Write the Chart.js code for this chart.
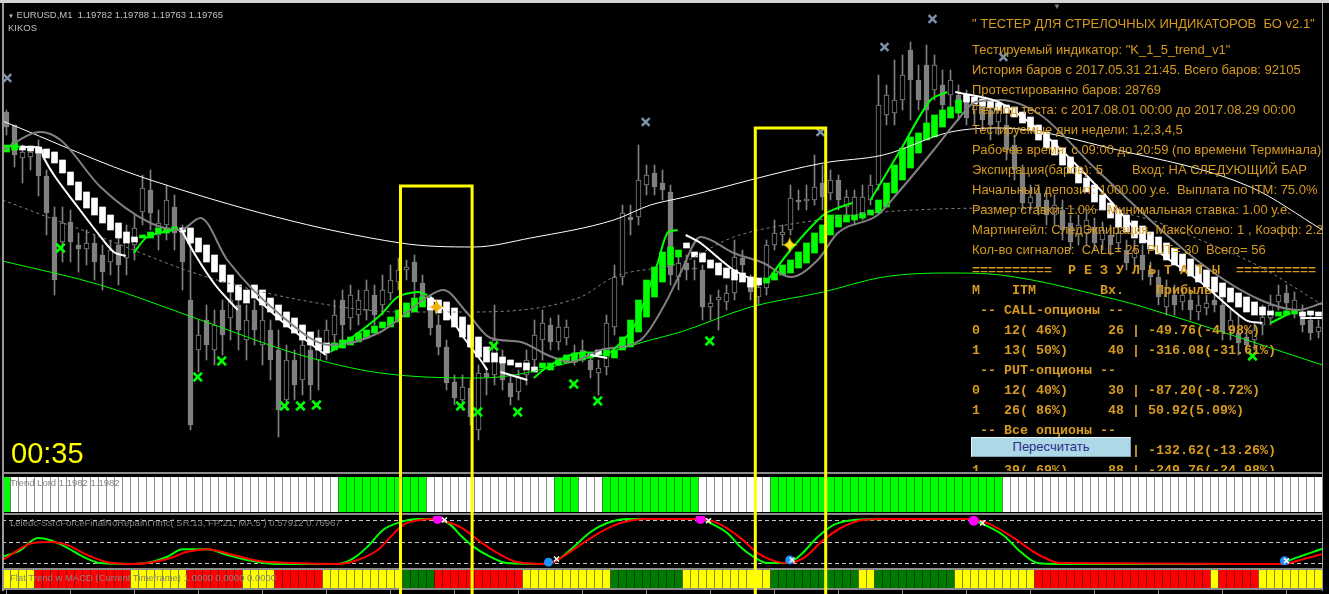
<!DOCTYPE html>
<html lang="ru">
<head>
<meta charset="UTF-8">
<meta name="viewport" content="width=device-width, initial-scale=1.0">
<title>EURUSD,M1 - K_1_5_trend_v1</title>
<script src="https://cdn.jsdelivr.net/npm/chart.js"></script>
<style>
  html, body { margin: 0; padding: 0; background: #000; }
  body { position: relative; width: 1329px; height: 594px; overflow: hidden; font-family: "Liberation Sans", Arial, sans-serif; }
  canvas { position: absolute; left: 2px; }
  #main { top: 4px; }
  #lord { top: 472px; }
  #force { top: 513px; }
  #flat { top: 568px; }
  #topbar { position: absolute; left: 0; top: 0; width: 1329px; height: 3px; background: #d4d4d4; }
  #leftline { position: absolute; left: 2px; top: 3px; width: 2px; height: 588px; background: #9a9a9a; z-index: 4; }
  #rightline { position: absolute; left: 1322px; top: 3px; width: 1px; height: 588px; background: #9a9a9a; z-index: 4; }
  .lbl { position: absolute; white-space: pre; z-index: 5; line-height: 12px; }
  .hdr { color: #c0c0c0; font-size: 9.5px; }
  .ind { color: #858585; font-size: 9.5px; }
  #report { position: absolute; left: 0; top: 0; width: 1322px; height: 471px; overflow: hidden; z-index: 5; }
  #report div { position: absolute; left: 972px; white-space: pre; color: #d69a1e; }
  .sans { font-size: 13px; line-height: 20px; }
  .mono { font-family: "Liberation Mono", "DejaVu Sans Mono", monospace; font-weight: bold; font-size: 13.33px; line-height: 20px; }
  #recalc { position: absolute; left: 971px; top: 437px; width: 160px; height: 20px; box-sizing: border-box;
            background: #add8e6; border: 1px solid #e6f3f8; border-right-color: #7ea3b0; border-bottom-color: #7ea3b0;
            color: #2b2b8c; font-size: 13px; line-height: 18px; text-align: center; z-index: 6; }
  #timer { position: absolute; left: 11px; top: 439px; font-size: 29px; line-height: 29px; color: #ffff00; z-index: 5; }
</style>
</head>
<body>
<div id="topbar"></div>
<canvas id="main" width="1320" height="468"></canvas>
<canvas id="lord" width="1320" height="41"></canvas>
<canvas id="force" width="1320" height="55"></canvas>
<canvas id="flat" width="1320" height="26"></canvas>
<div id="leftline"></div>
<div id="rightline"></div>

<div class="lbl hdr" style="left:8px;top:9px"><span style="font-size:6px">▼</span> EURUSD,M1  1.19782 1.19788 1.19763 1.19765</div>
<div class="lbl hdr" style="left:8px;top:22px">KIKOS</div>
<div class="lbl hdr" style="left:1053px;top:1px;color:#808080;font-size:8px">▼</div>
<div class="lbl ind" style="left:10px;top:477px">Trend Lord 1.1982 1.1982</div>
<div class="lbl ind" style="left:10px;top:517px">Leledc-SsrcForceFinalNoRepaint nmc( SR:13, FP:21, MA:5 ) 0.57912 0.76967</div>
<div class="lbl ind" style="left:10px;top:572px">Flat Trend w MACD (Current Timeframe) 1.0000 0.0000 0.0000</div>
<div id="timer">00:35</div>

<div id="report">
  <div class="sans" style="top:14px">" ТЕСТЕР ДЛЯ СТРЕЛОЧНЫХ ИНДИКАТОРОВ  БО v2.1"</div>
  <div class="sans" style="top:40px">Тестируемый индикатор: "K_1_5_trend_v1"
История баров с 2017.05.31 21:45. Всего баров: 92105
Протестированно баров: 28769
Период теста: с 2017.08.01 00:00 до 2017.08.29 00:00
Тестируемые дни недели: 1,2,3,4,5
Рабочее время: с 09:00 до 20:59 (по времени Терминала)
Экспирация(баров): 5        Вход: НА СЛЕДУЮЩИЙ БАР
Начальный депозит: 1000.00 у.е.  Выплата по ITM: 75.0%
Размер ставки: 1.0%   Минимальная ставка: 1.00 у.е.
Мартингейл: СледЭкпирация, МаксКолено: 1 , Коэфф: 2.2
Кол-во сигналов:  CALL= 26  PUT= 30  Всего= 56</div>
  <div class="mono" style="top:261px">==========  Р Е З У Л Ь Т А Т Ы  ==========
М    ITM        Вх.    Прибыль
 -- CALL-опционы --
0   12( 46%)     26 | -49.76(-4.98%)
1   13( 50%)     40 | -316.08(-31.61%)
 -- PUT-опционы --
0   12( 40%)     30 | -87.20(-8.72%)
1   26( 86%)     48 | 50.92(5.09%)
 -- Все опционы --
0   24( 43%)     56 | -132.62(-13.26%)
1   39( 69%)     88 | -249.76(-24.98%)</div>
</div>
<div id="recalc">Пересчитать</div>

<script>
const BASE = 1.19695, PT = 0.000005;
const price = v => BASE + v * PT;

// M1 candles, one entry per bar
const open = [358,345,312,313,322,294,253,228,248,225, 221,227,215,208,225,212,225,258,280,235,
  245,263,240,170,120,150,120,160,152,165, 130,160,125,140,120,70,110,90,120,110,
  125,135,170,152,155,160,175,165,177,188, 200,208,187,165,145,123,88,70,82,40,
  97,95,110,87,78,95,110,130,145,128, 132,117,120,110,97,103,143,193,253,253,
  285,297,287,278,193,207,202,200,163,170, 168,177,212,185,173,182,225,235,240,270,
  269,270,287,277,290,263,250,257,270,285, 355,357,370,420,390,405,380,385,375,375,
  370,360,367,360,348,345,325,297,267,277, 270,255,260,247,235,237,243,230,235,227,
  220,212,215,200,193,163,175,168,170,158, 162,170,165,140,137,133,130,145,152,168,
  177,160,158,150,138];
const high = [360,345,325,323,330,300,263,263,260,237, 240,235,225,230,235,245,255,295,300,260,
  285,275,245,230,150,165,160,170,185,175, 165,170,165,150,140,125,120,135,130,140,
  150,170,180,185,180,190,185,195,205,212, 210,215,195,175,155,130,95,95,90,105,
  102,165,120,95,100,120,150,160,152,155, 150,125,130,118,110,155,205,265,265,325,
  305,305,300,285,215,215,210,205,175,180, 185,230,220,195,190,230,250,245,285,280,
  285,315,305,300,295,280,280,285,295,395, 385,410,415,428,405,425,415,400,400,385,
  380,375,375,370,370,355,335,305,285,285, 280,275,270,255,255,260,252,248,245,245,
  230,230,225,208,200,190,185,182,180,175, 175,180,172,160,155,140,148,165,175,185,
  185,178,165,158,150];
const low = [335,303,287,300,274,235,175,208,208,198, 205,190,180,195,185,195,210,245,240,220,
  230,220,180,40,98,110,105,115,130,120, 110,125,105,90,33,60,70,75,70,80,
  110,125,130,140,145,150,145,155,170,180, 190,170,165,135,115,80,65,60,45,30,
  75,85,80,65,70,85,100,110,120,120, 125,105,108,92,75,95,135,185,235,245,
  275,275,270,185,180,190,190,150,150,140, 160,170,195,170,165,175,220,225,235,260,
  260,265,260,270,260,255,245,250,265,280, 345,345,360,350,360,345,370,355,360,350,
  345,345,340,330,335,310,290,260,260,255, 245,245,230,220,225,225,220,220,215,218,
  200,205,190,185,165,155,155,160,150,150, 155,158,130,130,115,118,120,135,145,160,
  158,152,138,130,132];
const close = [343,315,318,318,294,257,190,247,228,221, 227,208,198,220,205,230,242,282,257,247,
  270,237,208,45,135,125,145,135,170,140, 150,140,150,110,60,110,85,125,85,130,
  140,155,145,175,170,180,155,180,190,200, 203,188,172,142,123,87,72,83,53,97,
  93,130,90,73,93,110,135,147,128,143, 143,113,115,100,102,147,193,257,250,290,
  295,283,280,195,207,200,201,163,167,173, 177,213,205,178,183,225,237,238,272,268,
  271,283,273,290,270,273,273,273,285,365, 375,370,395,390,370,360,405,365,390,358,
  352,370,350,345,360,320,300,267,273,263, 255,265,240,228,245,250,227,240,225,237,
  207,220,200,193,173,183,165,175,160,165, 167,165,138,150,127,125,140,153,165,175,
  167,170,145,137,143];

// trend blocks (low / high edge per bar) and their colour: G green, W white
const haLow = [318,320,320,319,317,312,307,297,285,270, 262,255,247,240,232,227,228,232,232,237,
  237,240,238,227,218,208,198,188,178,170, 167,172,165,158,150,143,137,130,125,120,
  117,120,122,125,128,132,137,142,143,148, 153,158,163,160,157,150,143,133,123,113,
  108,108,107,105,103,100,98,102,100,105, 107,108,110,112,115,114,112,120,123,138,
  153,173,188,205,213,222,213,208,202,195, 192,190,188,183,185,187,190,195,197,202,
  207,217,227,235,243,248,250,252,255,257, 263,277,290,302,317,330,333,343,352,357,
  368,366,364,362,360,357,353,347,340,330, 322,315,305,297,287,278,268,260,252,243,
  238,232,227,221,216,210,205,199,194,188, 183,178,173,168,163,158,155,155,155,154,
  155,156,154,155,154];
const haHigh = [325,327,324,324,323,321,318,310,298,288, 278,272,263,255,247,238,233,235,238,242,
  242,243,242,242,232,225,215,205,195,185, 180,185,180,172,165,158,152,145,138,132,
  127,127,130,133,137,140,144,148,153,160, 167,172,173,172,170,168,162,153,145,133,
  123,117,113,110,107,107,103,107,107,112, 115,117,117,118,120,120,120,133,150,170,
  190,203,218,223,220,227,218,217,210,207, 202,200,197,193,192,192,197,205,210,218,
  227,237,245,255,255,255,255,257,260,270, 287,305,322,333,337,347,355,360,363,370,
  375,373,371,369,367,365,363,358,353,345, 338,330,322,313,303,292,285,275,267,260,
  255,249,244,238,233,227,222,216,211,205, 200,193,187,182,177,173,168,163,159,158,
  159,160,158,159,158];
const haColor = 'GGWWWWWWWW WWWWWWWGGG GGWWWWWWWW WWWWWWWWWW WGGGGGGGGG GGGWWWWWWW WWWWWWWGGG GGGGWGGGGG ' +
  'GGGGGWWWWW WWWWWGGGGG GGGGGGGGGG GGGGGGGGGG WWWWWWWWWW WWWWWWWWWW WWWWWWWWWW WWWWWWWWWG GGWWW';

// moving averages, read at bar positions
const longMaAt = [-0.5, 18, 49.25, 58.4, 65.5, 75.9, 80.5, 84.25, 102.1, 109.6, 118, 124.25, 138.9, 155.5, 164.5];
const longMa   = [349, 290, 227, 223, 232, 250, 265, 272, 307, 315, 338, 342, 320, 283, 240];
const lowBandAt = [-0.5, 11.75, 24.25, 36.75, 46.75, 59.25, 71.75, 80.5, 84.25, 93, 102.1, 109.6, 118, 124.25, 138.9, 142.1, 164.5];
const lowBand   = [209, 185, 150, 115, 97, 92, 110, 130, 138, 163, 178, 193, 197, 195, 170, 163, 105];
const dashMaAt = [-0.5, 11.75, 24.25, 36.75, 49.25, 58, 71.75, 75.9, 84.25, 90.9, 101.4, 109.6, 124.25, 136.75, 143, 149.25, 156.75, 164.5];
const dashMa   = [270, 233, 195, 170, 158, 158, 173, 193, 207, 233, 250, 258, 262, 260, 250, 230, 203, 165];
const slowMaAt = [-0.5, 4.25, 6.75, 11.75, 18, 21.75, 24.25, 27.6, 34.25, 40.5, 46.75, 52.6, 54.6, 57.6, 60.5, 64.25,
  67.6, 70.5, 74.25, 79.25, 82.1, 84.25, 86.75, 90.9, 94.6, 98, 101.4, 103.9, 108.9, 111.4, 115.9, 118.9, 121.1,
  124.25, 129.25, 135.9, 149.25, 156.75, 161.4, 164.5];
const slowMa   = [320, 338, 330, 283, 247, 240, 252, 210, 155, 125, 138, 173, 180, 157, 132, 128,
  115, 108, 120, 130, 163, 197, 233, 217, 207, 193, 210, 237, 255, 277, 320, 350, 368,
  370, 355, 303, 207, 170, 160, 167];
// fast line, white while falling and green while rising (null = break)
const fastWhiteAt = [1.75, 4.25, 4.6, 6.1, 8.9, 11.4, 13.4, 14.9, 18, 21.75, 23.6, 26.1, 28.9, 30, 31.1, 34.25, 37.4, 39.9,
  45, 53, 55.1, 57.1, 59.25, 60.1, 61, 61.75, 65.1, 70, 73, 75.1, 80, 84.9, 86.75, 90.9, 94.25, 110,
  118.6, 124.25, 130.5, 136.75, 143, 149.25, 154.9, 157, 159, 161.75, 164.5];
const fastWhite = [323, 322, 313, 293, 263, 237, 218, 214, null, 242, 215, 185, 160, null, 173, 150, 130, 115,
  null, 173, 157, 133, 110, 100, null, 98, 90, null, 115, 112, null, 235, 227, 200, 187, null,
  378, 367, 330, 280, 225, 188, 150, 147, null, 152, 152];
const fastGreenAt = [-0.5, 0.9, 1.75, 8, 15.9, 17.6, 20.9, 30, 40.5, 43.6, 46.75, 48.9, 51.4, 52.6, 60,
  65.9, 67.6, 70.5, 72.6, 74, 75.5, 78.4, 81.4, 82.6, 83.9, 90, 94.9, 98, 102.1, 103.9, 105.75, 107,
  108, 111.75, 115.5, 117.6, 140, 158, 160.5];
const fastGreen = [323, 324, 323, null, 217, 233, 240, null, 118, 135, 155, 173, 178, 175, null,
  92, 103, 115, 118, null, 117, 143, 207, 237, 240, null, 187, 220, 255, 262, 267, null,
  270, 320, 370, 378, null, 147, 157];

// arrows of the tested indicator
const buyCrossAt = [6.75, 23.9, 26.9, 34.75, 36.75, 38.75, 56.75, 58.9, 60.9, 63.9, 70.9, 73.9, 87.9, 155.75];
const buyCross   = [222, 93, 109, 64, 64, 65, 64, 58, 124, 58, 86, 69, 129, 114];
const sellCrossAt = [0.1, 79.9, 101.75, 109.75, 115.75, 124.6];
const sellCross   = [392, 348, 338, 423, 451, 413];
const starAt = [53.75, 97.9];
const star   = [163, 225];

// marked zones: first / last bar position and top level
const boxFrom = [49.25, 93.6];
const boxTo   = [58.2, 102.4];
const boxTop  = [284, 342];

// Trend Lord and Flat Trend colours per bar
const lordColor = 'GWWWWWWWWW WWWWWWWWWW WWWWWWWWWW WWWWWWWWWW WWGGGGGGGG GGGWWWWWWW WWWWWWWWWG GGWWWGGGGG ' +
  'GGGGGGGWWW WWWWWWGGGG GGGGGGGGGG GGGGGGGGGG GGGGGWWWWW WWWWWWWWWW WWWWWWWWWW WWWWWWWWWW WWWWW';
const flatColor = 'YYYYRRRRRR RRRRRRYYYY YYYRRRRRRR YYYYRRRRRR YYYYYYYYYY DDDDRRRRRR RRRRRYYYYY YYYYYYDDDD ' +
  'DDDDDYYYYY YYYYYYDDDD DDDDDDDYYD DDDDDDDDDY YYYYYYYYYR RRRRRRRRRR RRRRRRRRRR RYRRRRRYYY YYYYY';

// SsrcForce lines (0..1)
const forceFastAt = [-0.5, 1.75, 3.9, 5.5, 7.6, 9.6, 11.75, 15.9, 18, 20.1, 22, 25.1, 27.6, 30.1, 33.9, 41.4, 43.4, 45.1,
  47.1, 49.25, 51.4, 53.9, 54.25, 55.5, 56.75, 58.4, 60.5, 62.6, 67.6, 68.9, 70.9, 73, 75.1, 77.6, 86.75, 88,
  90.1, 91.75, 93.4, 95.1, 97.6, 99.25, 101.4, 103.4, 105.9, 110.5, 120.1, 121.75, 124.6, 126.75, 128.9, 131.4,
  159.25, 160.5, 164.5];
const forceFast = [0.16, 0.31, 0.58, 0.53, 0.36, 0.16, 0.02, 0, 0.04, 0.16, 0.33, 0.33, 0.2, 0.09, 0, 0, 0.13, 0.38,
  0.76, 0.93, 1, 1, 0.98, 0.87, 0.64, 0.38, 0.16, 0.02, 0, 0.09, 0.38, 0.71, 0.91, 1, 1, 0.91,
  0.69, 0.38, 0.16, 0.02, 0.02, 0.2, 0.6, 0.87, 0.98, 1, 1, 0.91, 0.64, 0.27, 0.02, 0,
  0, 0.09, 0.34];
const forceSlowAt = [-0.5, 3.4, 5.5, 7.6, 10.1, 12.6, 15.9, 20.1, 22.6, 25.1, 28.4, 31.4, 35.9, 41.4, 43.9, 46.4, 48,
  49.6, 51.75, 53.9, 54.25, 56.75, 59.25, 61.4, 63.9, 67.6, 69.25, 72.1, 74.25, 76.75, 80.1, 86.4, 88.9, 91.75,
  93.9, 95.9, 97.6, 99.6, 102.1, 104.25, 107.1, 110.5, 120.1, 122.6, 125.9, 128.4, 130.1, 131.75, 159.6, 161.75, 164.5];
const forceSlow = [0.09, 0.47, 0.49, 0.42, 0.2, 0.04, 0, 0.11, 0.27, 0.33, 0.2, 0.07, 0.02, 0, 0.09, 0.31, 0.6,
  0.87, 0.98, 1, 0.98, 0.82, 0.49, 0.24, 0.04, 0, 0.13, 0.47, 0.71, 0.91, 1, 1, 0.91, 0.58,
  0.24, 0.07, 0.02, 0.13, 0.53, 0.8, 0.98, 1, 1, 0.91, 0.58, 0.27, 0.11, 0.02, 0, 0.09, 0.22];
const forceLevels = [0.97, 0.5, 0.03];
const topDotAt = [53.9, 86.75, 120.9];
const topDot   = [1, 1, 0.96];
const lowDotAt = [67.75, 97.9, 159.75];
const lowDot   = [0.04, 0.09, 0.07];
const signalAt = [54.75, 87.75, 122, 68.75, 98.2, 160];
const signal   = [0.98, 0.96, 0.91, 0.11, 0.09, 0.07];

// ---------------------------------------------------------------
Chart.defaults.animation = false;
Chart.defaults.responsive = false;
Chart.defaults.devicePixelRatio = 1;
Chart.defaults.events = [];
Chart.defaults.plugins.legend.display = false;
Chart.defaults.plugins.tooltip.enabled = false;

const GRAY = '#808080';
const bars = s => s.replace(/ /g, '').split('');
const pts = (at, vals, f) => at.map((x, k) => ({ x, y: vals[k] === null ? null : f(vals[k]) }));
const same = v => v;
const xAxis = () => ({ type: 'linear', min: -0.5625, max: 164.4375, offset: false, display: false });
const pad = (top, bottom) => ({ autoPadding: false, padding: { top, bottom, left: 0, right: 0 } });

// four-pointed sparkle used as point style for the entry stars
function sparkle(color) {
  const c = document.createElement('canvas');
  c.width = c.height = 17;
  const g = c.getContext('2d');
  const m = 8.5, k = 0.6;
  g.fillStyle = color;
  g.beginPath();
  g.moveTo(m, 0);
  g.quadraticCurveTo(m + k, m - k, 17, m);
  g.quadraticCurveTo(m + k, m + k, m, 17);
  g.quadraticCurveTo(m - k, m + k, 0, m);
  g.quadraticCurveTo(m - k, m - k, m, 0);
  g.fill();
  g.fillRect(m - 1.5, m - 1.5, 3, 3);
  return c;
}

// black background, panel separator, bottom time scale
const frame = {
  id: 'frame',
  beforeDraw(chart, args, o) {
    const { ctx, width, height } = chart;
    ctx.save();
    ctx.fillStyle = '#000';
    ctx.fillRect(0, 0, width, height);
    if (o.sep) {
      ctx.fillStyle = '#8c8c8c';
      ctx.fillRect(0, 0, width, 2);
    }
    ctx.restore();
  },
  afterDraw(chart, args, o) {
    if (!o.timeScale) return;
    const { ctx, width, chartArea } = chart;
    const x = chart.scales.x;
    ctx.save();
    ctx.fillStyle = '#8c8c8c';
    ctx.fillRect(0, chartArea.bottom, width, 2);
    for (let i = 0; i <= 164; i += 8) {
      ctx.fillRect(Math.floor(x.getPixelForValue(i)), chartArea.bottom + 2, 1, 4);
    }
    ctx.restore();
  }
};

const levels = {
  id: 'levels',
  beforeDatasetsDraw(chart) {
    const { ctx, chartArea } = chart;
    const y = chart.scales.y;
    ctx.save();
    ctx.strokeStyle = '#c8c8c8';
    ctx.lineWidth = 1;
    ctx.setLineDash([4, 3]);
    forceLevels.forEach(v => {
      const py = Math.round(y.getPixelForValue(v)) + 0.5;
      ctx.beginPath();
      ctx.moveTo(chartArea.left, py);
      ctx.lineTo(chartArea.right, py);
      ctx.stroke();
    });
    ctx.restore();
  }
};

// yellow zone rectangles, running down through every panel
const boxes = {
  id: 'boxes',
  afterDraw(chart, args, o) {
    const { ctx, height } = chart;
    const x = chart.scales.x, y = chart.scales.y;
    ctx.save();
    ctx.strokeStyle = '#ffff00';
    ctx.lineWidth = 3;
    ctx.lineJoin = 'miter';
    for (let k = 0; k < boxFrom.length; k++) {
      const l = x.getPixelForValue(boxFrom[k]);
      const r = x.getPixelForValue(boxTo[k]);
      ctx.beginPath();
      if (o.top) {
        const t = y.getPixelForValue(price(boxTop[k]));
        ctx.moveTo(l, height);
        ctx.lineTo(l, t);
        ctx.lineTo(r, t);
        ctx.lineTo(r, height);
      } else {
        ctx.moveTo(l, 0); ctx.lineTo(l, height);
        ctx.moveTo(r, 0); ctx.lineTo(r, height);
      }
      ctx.stroke();
    }
    ctx.restore();
  }
};

// ---------------- main price panel ----------------
const wickData = open.map((o, i) => ({ x: i, y: [price(low[i]), price(high[i])] }));
const bodyData = open.map((o, i) => ({ x: i, y: [price(Math.min(o, close[i])), price(Math.max(o, close[i]))] }));
const bodyFill = open.map((o, i) => close[i] > o ? '#000' : GRAY);
const haData = haLow.map((v, i) => ({ x: i, y: [price(v), price(haHigh[i])] }));
const haFill = bars(haColor).map(c => c === 'G' ? '#00ff00' : '#ffffff');

const lineSet = (data, color, width, order, extra) => Object.assign({
  type: 'line', data, borderColor: color, borderWidth: width, pointRadius: 0,
  cubicInterpolationMode: 'monotone', spanGaps: false, order
}, extra || {});
const markSet = (data, style, color, radius, width, order) => ({
  type: 'line', data, showLine: false, pointStyle: style, pointRadius: radius,
  pointBorderColor: color, pointBackgroundColor: color, pointBorderWidth: width, order
});

new Chart(document.getElementById('main'), {
  type: 'bar',
  data: {
    datasets: [
      { data: wickData, backgroundColor: GRAY, barThickness: 1, grouped: false, order: 20 },
      { data: bodyData, backgroundColor: bodyFill, borderColor: GRAY, borderWidth: 1, borderSkipped: false,
        barThickness: 5, minBarLength: 1, grouped: false, order: 19 },
      { data: haData, backgroundColor: haFill, barThickness: 6, grouped: false, order: 18 },
      lineSet(pts(dashMaAt, dashMa, price), GRAY, 1, 12, { borderDash: [3, 3] }),
      lineSet(pts(longMaAt, longMa, price), '#ffffff', 1, 11),
      lineSet(pts(lowBandAt, lowBand, price), '#00ff00', 1, 10),
      lineSet(pts(slowMaAt, slowMa, price), GRAY, 2, 9),
      lineSet(pts(fastWhiteAt, fastWhite, price), '#ffffff', 2, 8, { cubicInterpolationMode: 'default', tension: 0.3 }),
      lineSet(pts(fastGreenAt, fastGreen, price), '#00ff00', 2, 7, { cubicInterpolationMode: 'default', tension: 0.3 }),
      markSet(pts(buyCrossAt, buyCross, price), 'crossRot', '#00ff00', 6, 2.5, 3),
      markSet(pts(sellCrossAt, sellCross, price), 'crossRot', '#7d91ab', 5.5, 2.5, 3),
      markSet(pts(starAt, star, price), [sparkle('#f5b000'), sparkle('#ffe21a')], '#ffe21a', 8, 0, 2)
    ]
  },
  options: {
    layout: pad(2, 2),
    scales: { x: xAxis(), y: { display: false, min: price(0), max: price(464) } },
    plugins: { frame: {}, boxes: { top: true } }
  },
  plugins: [frame, boxes]
});

// ---------------- Trend Lord ----------------
new Chart(document.getElementById('lord'), {
  type: 'bar',
  data: {
    datasets: [{
      data: open.map((o, i) => ({ x: i, y: [0, 1] })),
      backgroundColor: bars(lordColor).map(c => c === 'G' ? '#00ff00' : '#ffffff'),
      barThickness: 7, grouped: false
    }]
  },
  options: {
    layout: pad(5, 1),
    scales: { x: xAxis(), y: { display: false, min: 0, max: 1 } },
    plugins: { frame: { sep: true }, boxes: {} }
  },
  plugins: [frame, boxes]
});

// ---------------- SsrcForce ----------------
new Chart(document.getElementById('force'), {
  type: 'line',
  data: {
    datasets: [
      lineSet(pts(forceFastAt, forceFast, same), '#00ff00', 2, 5),
      lineSet(pts(forceSlowAt, forceSlow, same), '#ff0000', 2, 4),
      markSet(pts(topDotAt, topDot, same), 'circle', '#ff00ff', 5, 0, 2),
      markSet(pts(lowDotAt, lowDot, same), 'circle', '#1e90ff', 4.5, 0, 2),
      markSet(pts(signalAt, signal, same), 'crossRot', '#ffffff', 3.5, 1.5, 1)
    ]
  },
  options: {
    layout: pad(3, 1),
    scales: { x: xAxis(), y: { display: false, min: -0.067, max: 1.067 } },
    plugins: { frame: { sep: true }, boxes: {} }
  },
  plugins: [frame, levels, boxes]
});

// ---------------- Flat Trend w MACD ----------------
const flatPalette = { Y: '#ffff00', R: '#ff0000', D: '#007a00' };
new Chart(document.getElementById('flat'), {
  type: 'bar',
  data: {
    datasets: [{
      data: open.map((o, i) => ({ x: i, y: [0, 1] })),
      backgroundColor: bars(flatColor).map(c => flatPalette[c]),
      barThickness: 7, grouped: false
    }]
  },
  options: {
    layout: pad(2, 6),
    scales: { x: xAxis(), y: { display: false, min: 0, max: 1 } },
    plugins: { frame: { sep: true, timeScale: true }, boxes: {} }
  },
  plugins: [frame, boxes]
});
</script>
</body>
</html>
